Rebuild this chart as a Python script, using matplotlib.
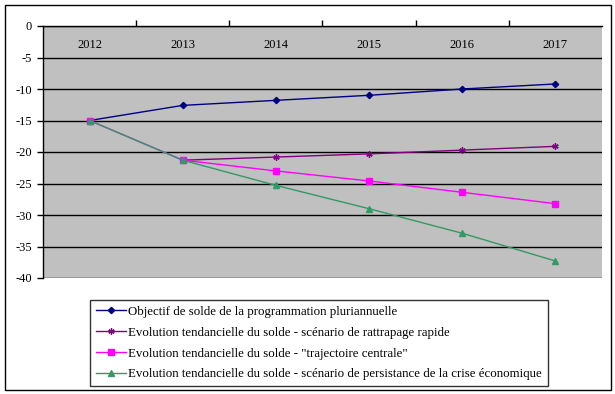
import matplotlib
matplotlib.use("Agg")
import matplotlib.pyplot as plt
from matplotlib.patches import Rectangle

years = ["2012", "2013", "2014", "2015", "2016", "2017"]
objectif = [-15.0, -12.6, -11.8, -11.0, -10.0, -9.2]
rattrapage = [None, -21.3, -20.8, -20.3, -19.7, -19.1]
centrale = [-15.0, -21.3, -23.0, -24.6, -26.4, -28.2]
persistance = [-15.0, -21.3, -25.3, -29.0, -32.9, -37.3]
labels = [
    "Objectif de solde de la programmation pluriannuelle",
    "Evolution tendancielle du solde - scénario de rattrapage rapide",
    "Evolution tendancielle du solde - \"trajectoire centrale\"",
    "Evolution tendancielle du solde - scénario de persistance de la crise économique",
]
yticks = [0, -5, -10, -15, -20, -25, -30, -35, -40]

plt.rcParams['font.family'] = ['Liberation Serif', 'DejaVu Serif']
W, H = 615, 394
fig = plt.figure(figsize=(W / 100, H / 100), dpi=100)
fig.patch.set_facecolor('white')
fig.patches.append(Rectangle((5 / W, 1 - 390 / H), 606 / W, 385 / H, transform=fig.transFigure,
                             fill=False, edgecolor='black', linewidth=1.0))

L, R, T, B = 43, 602, 26, 278
ax = fig.add_axes([L / W, 1 - B / H, (R - L) / W, (B - T) / H])
ax.set_facecolor('#C0C0C0')
x = list(range(len(years)))

ax.plot(x, objectif, color='#000080', marker='D', markersize=3.2, linewidth=1.0, label=labels[0])
xr = [xi for xi, v in zip(x, rattrapage) if v is not None]
yr = [v for v in rattrapage if v is not None]
ax.plot(xr, yr, color='#800080', marker=(6, 2, 0), markersize=4.5, markeredgewidth=1.0, linewidth=1.0, label=labels[1])
ax.plot(x, centrale, color='#FF00FF', marker='s', markersize=4.5, linewidth=1.0, label=labels[2])
ax.plot(x, persistance, color='#339966', marker='^', markersize=4.5, linewidth=1.0, label=labels[3])

ax.set_xlim(-0.5, 5.5)
ax.set_ylim(-40, 0)
ax.set_yticks(yticks)
ax.set_yticklabels([str(v) for v in yticks], fontsize=9)
ax.yaxis.grid(True, color='black', linewidth=1.0)
ax.set_axisbelow(True)
ax.tick_params(axis='y', direction='out', length=4, width=1, pad=4)

# category axis at top (y = 0): tick marks at boundaries, labels inside below
ax.set_xticks([0.5, 1.5, 2.5, 3.5, 4.5])
ax.set_xticklabels([])
ax.xaxis.set_ticks_position('top')
ax.tick_params(axis='x', direction='out', length=4, width=1)
for xi, yl in zip(x, years):
    ax.text(xi, -3.0, yl, ha='center', va='center', fontsize=9)

for s in ['left', 'top']:
    ax.spines[s].set_color('black')
    ax.spines[s].set_linewidth(1.0)
ax.spines['right'].set_visible(False)
ax.spines['bottom'].set_visible(False)

leg = fig.legend(loc='upper left', bbox_to_anchor=(90 / W, 1 - 300 / H), fontsize=9.3,
                 frameon=True, fancybox=False, edgecolor='black', handlelength=2.3,
                 handletextpad=0.2, labelspacing=0.68, borderpad=0.45, borderaxespad=0)
leg.get_frame().set_linewidth(1.0)

fig.savefig('out.png', dpi=100)
